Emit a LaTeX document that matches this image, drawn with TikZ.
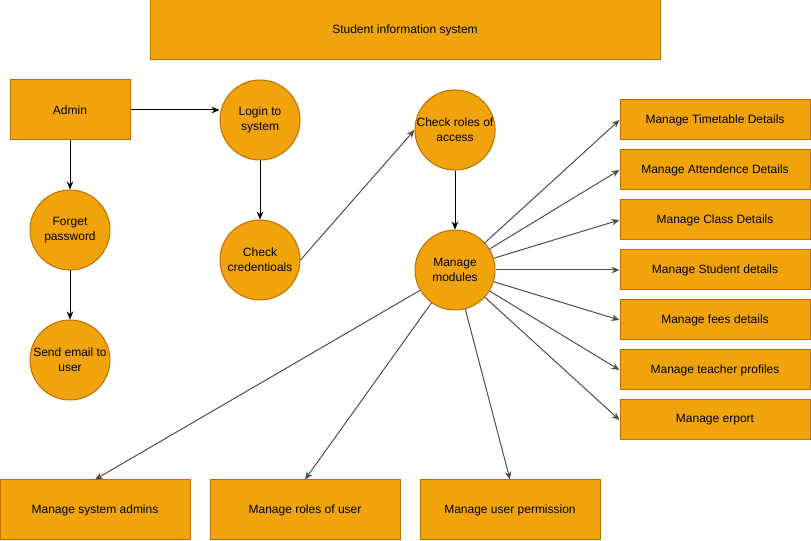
\documentclass[tikz,border=0pt]{standalone}
\usepackage{fontspec}
\setmainfont{Liberation Sans}
\usepackage{tikz}
\usetikzlibrary{arrows.meta}
\definecolor{boxfill}{HTML}{F0A30A}
\definecolor{boxline}{HTML}{BD7000}
\definecolor{linkgray}{HTML}{4D4D4D}

\begin{document}
\begin{tikzpicture}[x=0.75pt, y=-0.75pt,
	every node/.style={font=\fontsize{9}{11}\selectfont, text=black, align=center},
	box/.style={draw=boxline, fill=boxfill, line width=0.75pt, rectangle, inner sep=0pt},
	bubble/.style={draw=boxline, fill=boxfill, line width=0.75pt, circle, inner sep=0pt, minimum size=60pt},
	flow/.style={-{Stealth[length=6pt,width=5pt]}, line width=0.75pt, color=black},
	link/.style={-{Stealth[length=6pt,width=5pt]}, line width=0.75pt, color=linkgray}]
		%%%%% START %%%%%
		
		\useasboundingbox (0, 0) rectangle (811, 541);
		
		\node[box, minimum width=382.5pt, minimum height=45pt] (title) at (405, 30) {Student information system};
		
		\node[box, minimum width=90pt, minimum height=45pt] (admin) at (70, 110) {Admin};
		\node[bubble] (forget) at (70, 230) {Forget\\password};
		\node[bubble] (email) at (70, 360) {Send email to\\user};
		
		\node[bubble] (login) at (260, 120) {Login to\\system};
		\node[bubble] (cred) at (260, 260) {Check\\credentioals};
		
		\node[bubble] (roles) at (455, 130) {Check roles of\\access};
		\node[bubble] (modules) at (455, 270) {Manage\\modules};
		
		\node[box, minimum width=142.5pt, minimum height=30pt] (timetable) at (715, 120) {Manage Timetable Details};
		\node[box, minimum width=142.5pt, minimum height=30pt] (attend) at (715, 170) {Manage Attendence Details};
		\node[box, minimum width=142.5pt, minimum height=30pt] (class) at (715, 220) {Manage Class Details};
		\node[box, minimum width=142.5pt, minimum height=30pt] (student) at (715, 270) {Manage Student details};
		\node[box, minimum width=142.5pt, minimum height=30pt] (fees) at (715, 320) {Manage fees details};
		\node[box, minimum width=142.5pt, minimum height=30pt] (teacher) at (715, 370) {Manage teacher profiles};
		\node[box, minimum width=142.5pt, minimum height=30pt] (report) at (715, 420) {Manage erport};
		
		\node[box, minimum width=142.5pt, minimum height=45pt] (sysadmins) at (95, 510) {Manage system admins};
		\node[box, minimum width=142.5pt, minimum height=45pt] (userroles) at (305, 510) {Manage roles of user};
		\node[box, minimum width=135pt, minimum height=45pt] (userperm) at (510, 510) {Manage user permission};
		
		\draw[flow] (admin.east) -- (admin.east -| login.west);
		\draw[flow] (admin) -- (forget);
		\draw[flow] (forget) -- (email);
		\draw[flow] (login) -- (cred);
		\draw[link] (cred.east) -- (roles.west);
		\draw[flow] (roles) -- (modules);
		
		\foreach \target in {timetable, attend, class, student, fees, teacher, report}
			\draw[link] (modules) -- (\target.west);
		
		\draw[link] (modules) -- (sysadmins.north);
		\draw[link] (modules) -- (userroles.north);
		\draw[link] (modules) -- (userperm.north);
		
		%%%%% END %%%%%
\end{tikzpicture}
\end{document}
